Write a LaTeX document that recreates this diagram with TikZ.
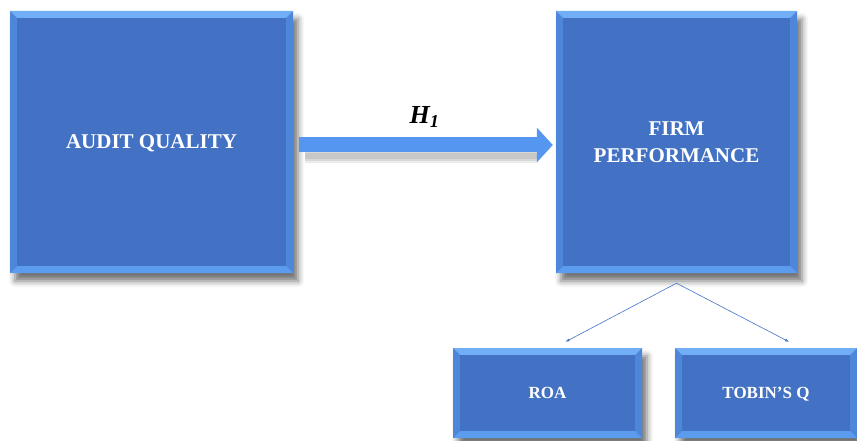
\documentclass[tikz,border=0pt]{standalone}
\usepackage{fontspec}
\setmainfont{Liberation Serif}
\usetikzlibrary{arrows.meta,shadows.blur}
\definecolor{boxblue}{HTML}{4372C4}
\definecolor{bevtop}{HTML}{72AEF6}
\definecolor{bevbot}{HTML}{5C9CEE}
\definecolor{bevside}{HTML}{4E86DA}
\definecolor{arrblue}{HTML}{5597F0}
\tikzset{
  bevelbox/.style={fill=boxblue, inner sep=0pt, text=white, align=center, text depth=0pt,
    font=\bfseries\fontsize{21}{27}\selectfont,
    blur shadow={shadow xshift=5pt, shadow yshift=-8pt, shadow blur radius=6pt, shadow opacity=55},
    path picture={
      \coordinate (nw) at (path picture bounding box.north west);
      \coordinate (ne) at (path picture bounding box.north east);
      \coordinate (sw) at (path picture bounding box.south west);
      \coordinate (se) at (path picture bounding box.south east);
      \fill[bevside] (nw) -- ([shift={(7pt,-7pt)}]nw) -- ([shift={(7pt,7pt)}]sw) -- (sw) -- cycle;
      \fill[bevside] (ne) -- ([shift={(-7pt,-7pt)}]ne) -- ([shift={(-7pt,7pt)}]se) -- (se) -- cycle;
      \fill[bevtop] (nw) -- (ne) -- ([shift={(-7pt,-7pt)}]ne) -- ([shift={(7pt,-7pt)}]nw) -- cycle;
      \fill[bevbot] (sw) -- (se) -- ([shift={(-7pt,7pt)}]se) -- ([shift={(7pt,7pt)}]sw) -- cycle;
      \fill[boxblue] ([shift={(7pt,-7pt)}]nw) rectangle ([shift={(-7pt,7pt)}]se);
    }},
  smallbox/.style={bevelbox, font=\bfseries\fontsize{17}{20}\selectfont,
    minimum width=189pt, minimum height=90pt},
  fatarrow/.style={draw=arrblue, line width=15pt,
    -{Triangle[width=34pt,length=16pt,fill=arrblue]}},
  arrshadow/.style={black, opacity=0.08, shorten <=12pt, shorten >=18pt},
  thinarrow/.style={draw=boxblue, line width=0.6pt, -{Latex[length=4pt,width=3pt]}}
}
\begin{document}
\begin{tikzpicture}
  \useasboundingbox (0pt,0pt) rectangle (857pt,-441pt);
  % main blocks
  \node[bevelbox, minimum width=283pt, minimum height=262pt] (aq) at (151.5pt,-142pt) {AUDIT QUALITY};
  \node[bevelbox, minimum width=241pt, minimum height=262pt] (fp) at (676.5pt,-142pt) {FIRM\\PERFORMANCE};
  % proxies
  \node[smallbox] (roa) at (547.5pt,-393pt) {ROA};
  \node[smallbox, minimum width=182pt] (tq) at (766pt,-393pt) {TOBIN'S Q};
  % hypothesis
  \foreach \w in {6,10,14}
    \draw[arrshadow, line width=\w pt] ([yshift=-14pt]aq.east) -- ([yshift=-14pt]fp.west);
  \draw[fatarrow, shorten <=6pt, shorten >=3pt] ([yshift=-3pt]aq.east) -- ([yshift=-3pt]fp.west)
    node[midway, above=7pt, text=black, font=\bfseries\itshape\fontsize{26}{30}\selectfont] (h1) {H\textsubscript{1}};
  \coordinate (fork) at ([yshift=-10pt]fp.south);
  \draw[thinarrow] (fork) -- ([shift={(18pt,6pt)}]roa.north);
  \draw[thinarrow] (fork) -- ([shift={(23pt,6pt)}]tq.north);
\end{tikzpicture}
\end{document}
